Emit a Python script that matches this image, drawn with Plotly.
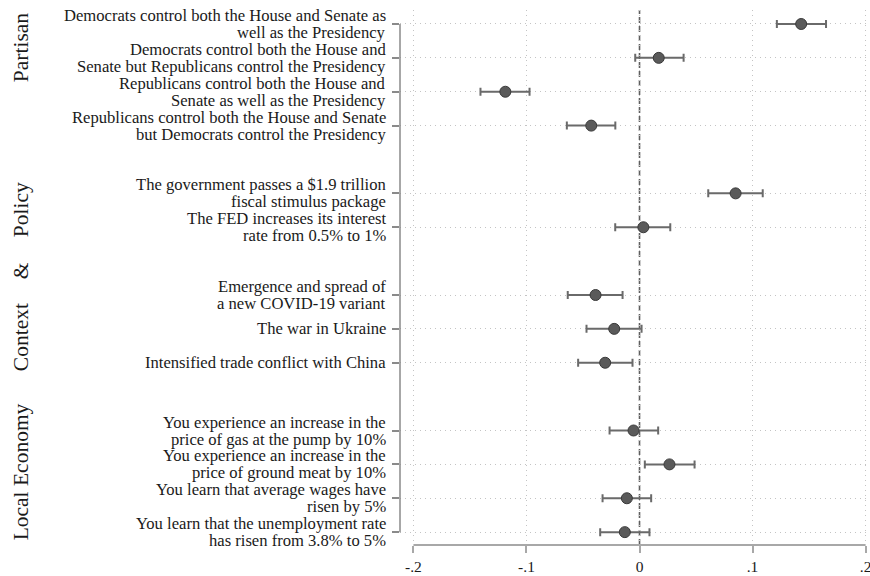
import plotly.graph_objects as go

# ---- data ----
block_names = ["Partisan", "Policy", "Context", "Local Economy"]
block_labels = [
    ["Democrats control both the House and Senate as<br>well as the Presidency",
     "Democrats control both the House and<br>Senate but Republicans control the Presidency",
     "Republicans control both the House and<br>Senate as well as the Presidency",
     "Republicans control both the House and Senate<br>but Democrats control the Presidency"],
    ["The government passes a $1.9 trillion<br>fiscal stimulus package",
     "The FED increases its interest<br>rate from 0.5% to 1%"],
    ["Emergence and spread of<br>a new COVID-19 variant",
     "The war in Ukraine",
     "Intensified trade conflict with China"],
    ["You experience an increase in the<br>price of gas at the pump by 10%",
     "You experience an increase in the<br>price of ground meat by 10%",
     "You learn that average wages have<br>risen by 5%",
     "You learn that the unemployment rate<br>has risen from 3.8% to 5%"],
]
estimates = [0.143, 0.017, -0.1187, -0.0427,
             0.085, 0.0034,
             -0.0389, -0.0224, -0.0304,
             -0.0053, 0.0265, -0.0112, -0.013]
ci_low = [0.1215, -0.0038, -0.1407, -0.0643,
          0.0608, -0.0215,
          -0.0635, -0.0469, -0.0543,
          -0.0265, 0.0047, -0.0327, -0.0348]
ci_high = [0.165, 0.039, -0.0973, -0.0214,
           0.109, 0.0272,
           -0.015, 0.0018, -0.0062,
           0.0165, 0.0487, 0.0103, 0.0088]
x_tickvals = [-0.2, -0.1, 0, 0.1, 0.2]
x_ticktext = ["-.2", "-.1", "0", ".1", ".2"]

# ---- row positions (blocks separated by one empty row) ----
labels, rows = [], []
r = 0
for bi, blk in enumerate(block_labels):
    for lab in blk:
        labels.append(lab)
        rows.append(r)
        r += 1
    r += 1

FONT = "Liberation Serif"
TXT = "#1a1a1a"
GRID = "#c4c4c4"
GRID_DASH = "1px,4px"

fig = go.Figure()
fig.add_trace(go.Scatter(
    x=estimates, y=rows, mode="markers",
    marker=dict(size=11, color="#5a5a5a", line=dict(color="#3a3a3a", width=1)),
    error_x=dict(type="data", symmetric=False,
                 array=[h - e for h, e in zip(ci_high, estimates)],
                 arrayminus=[e - l for e, l in zip(estimates, ci_low)],
                 color="#6a6a6a", thickness=2, width=4),
    showlegend=False, hoverinfo="skip"))

# zero reference line
fig.add_shape(type="line", xref="x", yref="paper", x0=0, x1=0, y0=0, y1=1,
              line=dict(color="#5e5e5e", width=1.6, dash="6px,3px"), layer="below")
# x axis line only between -.2 and .2
fig.add_shape(type="line", xref="x", yref="paper", x0=-0.2, x1=0.2, y0=0, y1=0,
              line=dict(color="#a8a8a8", width=2))
# y axis line only between first and last row
fig.add_shape(type="line", xref="paper", yref="y", x0=0, x1=0, y0=rows[0], y1=rows[-1],
              line=dict(color="#8a8a8a", width=1.5))

annotations = []
# row labels, one annotation per line for tight line spacing
for lab, yy in zip(labels, rows):
    parts = lab.split("<br>")
    n = len(parts)
    for i, p in enumerate(parts):
        shift = ((n - 1) / 2 - i) * 17
        annotations.append(dict(text=p, xref="paper", yref="y", x=0, y=yy,
                                xanchor="right", yanchor="middle", xshift=-12, yshift=shift,
                                showarrow=False, font=dict(family=FONT, size=16.6, color=TXT)))

# group labels
group_pos = [("Partisan", 0.68), ("Policy", 5.49), ("&", 7.29),
             ("Context", 9.24), ("Local Economy", 13.23)]
for name, yy in group_pos:
    annotations.append(dict(text=name, xref="paper", yref="y", x=-0.806, y=yy,
                            xanchor="center", yanchor="middle", textangle=-90,
                            showarrow=False, font=dict(family=FONT, size=21.5, color=TXT)))

fig.update_layout(
    width=870, height=576,
    margin=dict(l=400, r=0, t=10, b=31),
    paper_bgcolor="white", plot_bgcolor="white",
    font=dict(family=FONT, color=TXT),
    annotations=annotations,
    xaxis=dict(range=[-0.2119, 0.2039], tickvals=x_tickvals, ticktext=x_ticktext,
               showline=False, zeroline=False, ticklabeloverflow="allow",
               showgrid=True, gridcolor=GRID, griddash=GRID_DASH, gridwidth=1,
               ticks="outside", ticklen=7, tickwidth=1.5, tickcolor="#a8a8a8",
               tickfont=dict(family=FONT, size=15.5, color=TXT)),
    yaxis=dict(range=[15.38, -0.413], tickvals=rows, ticktext=["" for _ in rows],
               showline=False, zeroline=False,
               showgrid=True, gridcolor=GRID, griddash=GRID_DASH, gridwidth=1,
               ticks="outside", ticklen=7, tickwidth=1.5, tickcolor="#8a8a8a"),
)

fig.write_html("out.html")
